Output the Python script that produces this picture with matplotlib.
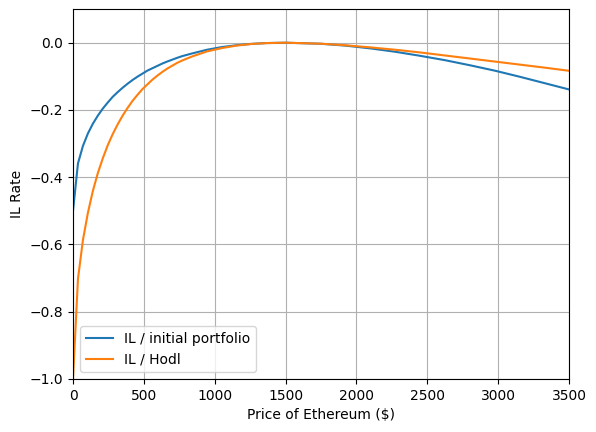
import matplotlib
matplotlib.use("Agg")
import matplotlib.pyplot as plt

# ETH price samples ($) and loss rates
price = [0, 35, 70, 105, 140, 175, 210, 245, 280, 315, 350, 385, 420, 455,
         490, 525, 560, 595, 630, 665, 735, 770, 840, 945, 1050, 1155, 1260,
         1365, 1500, 1750, 1925, 2100, 2275, 2450, 2625, 2800, 2975, 3150,
         3325, 3500]
il_initial = [-0.500, -0.359, -0.307, -0.270, -0.241, -0.217, -0.196, -0.178,
              -0.161, -0.147, -0.134, -0.122, -0.111, -0.101, -0.092, -0.083,
              -0.076, -0.069, -0.062, -0.056, -0.045, -0.040, -0.032, -0.021,
              -0.013, -0.0075, -0.0035, -0.0011, 0.0, -0.0032, -0.0088,
              -0.017, -0.027, -0.039, -0.052, -0.067, -0.083, -0.101, -0.120,
              -0.139]
il_hodl = [-1.000, -0.702, -0.587, -0.506, -0.441, -0.388, -0.344, -0.305,
           -0.272, -0.243, -0.217, -0.194, -0.173, -0.155, -0.138, -0.124,
           -0.110, -0.098, -0.087, -0.077, -0.060, -0.053, -0.041, -0.026,
           -0.016, -0.0085, -0.0038, -0.0011, 0.0, -0.0030, -0.0077, -0.014,
           -0.021, -0.029, -0.038, -0.047, -0.056, -0.065, -0.074, -0.0835]

fig, ax = plt.subplots(figsize=(5.96, 4.32), dpi=100)
fig.subplots_adjust(left=0.1225, right=0.9547, top=0.979, bottom=0.1227)
ax.plot(price, il_initial, label="IL / initial portfolio")
ax.plot(price, il_hodl, label="IL / Hodl")
ax.set_xlim(0, 3500)
ax.set_ylim(-1, 0.1)
ax.set_xlabel("Price of Ethereum ($)")
ax.set_ylabel("IL Rate")
ax.grid(True)
ax.legend(loc="lower left")
fig.savefig("out.png")
